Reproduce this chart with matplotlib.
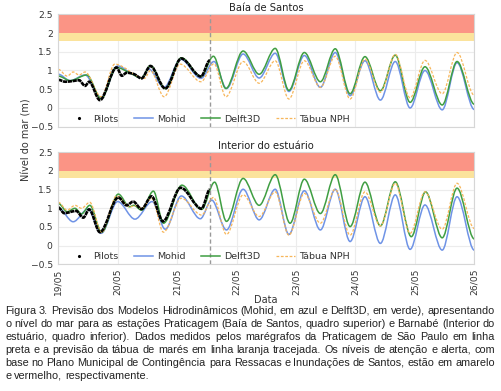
import matplotlib
matplotlib.use("Agg")
import matplotlib.pyplot as plt
from matplotlib.path import Path
from matplotlib.patches import PathPatch
from matplotlib.lines import Line2D
import numpy as np

# ---------------- data (days since 19/05 00:00) ----------------
day_labels = ["19/05", "20/05", "21/05", "22/05", "23/05", "24/05", "25/05", "26/05"]
forecast_start = 2.55

# Top panel: Baía de Santos
top_pilots_t = [0, 0.12, 0.25, 0.35, 0.45, 0.52, 0.70, 0.98, 1.07, 1.15, 1.28, 1.40, 1.55, 1.80, 2.07, 2.40, 2.55]
top_pilots_v = [0.75, 0.70, 0.72, 0.74, 0.59, 0.70, 0.21, 1.08, 0.86, 0.94, 0.90, 0.79, 1.12, 0.52, 1.32, 0.84, 1.27]

top_mohid_t = [0, 0.2, 0.45, 0.72, 1.0, 1.2, 1.4, 1.52, 1.78, 2.06, 2.4, 2.62, 2.83, 3.11, 3.38, 3.65, 3.88,
               4.14, 4.41, 4.66, 4.91, 5.16, 5.42, 5.67, 5.92, 6.17, 6.46, 6.71, 7.0]
top_mohid_v = [0.90, 0.73, 0.88, 0.28, 1.12, 0.95, 0.80, 1.04, 0.55, 1.30, 0.79, 1.24, 0.52, 1.44, 0.80, 1.46, 0.44,
               1.40, 0.55, 1.48, 0.33, 1.26, 0.21, 1.24, 0.0, 1.0, -0.05, 1.21, -0.04]

top_delft_t = [0, 0.2, 0.48, 0.72, 0.98, 1.2, 1.4, 1.55, 1.8, 2.07, 2.4, 2.61, 2.82, 3.11, 3.38, 3.65, 3.88,
               4.14, 4.41, 4.66, 4.91, 5.16, 5.42, 5.67, 5.92, 6.17, 6.46, 6.71, 7.0]
top_delft_v = [0.85, 0.73, 0.88, 0.25, 1.08, 0.94, 0.80, 1.13, 0.52, 1.34, 0.84, 1.38, 0.52, 1.52, 0.90, 1.59, 0.47,
               1.48, 0.70, 1.58, 0.38, 1.37, 0.46, 1.41, 0.15, 1.10, 0.08, 1.24, 0.10]

top_tabua_t = [0, 0.15, 0.25, 0.35, 0.45, 0.72, 0.95, 1.45, 1.55, 1.78, 2.05, 2.4, 2.62, 2.82, 3.11, 3.38, 3.65,
               3.88, 4.14, 4.41, 4.66, 4.91, 5.16, 5.42, 5.67, 5.92, 6.17, 6.46, 6.71, 7.0]
top_tabua_v = [1.03, 0.85, 0.96, 0.88, 0.96, 0.30, 1.17, 0.79, 1.00, 0.30, 1.17, 0.70, 1.18, 0.30, 1.24, 0.66, 1.26,
               0.24, 1.26, 0.55, 1.38, 0.24, 1.30, 0.42, 1.43, 0.27, 1.27, 0.38, 1.48, 0.34]

# Bottom panel: Interior do estuário
bot_pilots_t = [0, 0.1, 0.3, 0.42, 0.52, 0.70, 1.01, 1.15, 1.26, 1.40, 1.57, 1.76, 2.06, 2.41, 2.55]
bot_pilots_v = [1.02, 0.87, 0.93, 0.75, 0.97, 0.36, 1.29, 1.08, 1.18, 0.98, 1.32, 0.65, 1.55, 0.99, 1.50]

bot_mohid_t = [0, 0.25, 0.5, 0.72, 1.0, 1.29, 1.58, 1.8, 2.07, 2.39, 2.58, 2.83, 3.11, 3.38, 3.65, 3.88,
               4.14, 4.41, 4.66, 4.91, 5.16, 5.42, 5.67, 5.92, 6.17, 6.46, 6.71, 7.0]
bot_mohid_v = [1.01, 0.64, 0.98, 0.33, 1.18, 0.71, 1.18, 0.44, 1.33, 0.72, 1.22, 0.42, 1.51, 0.69, 1.51, 0.30,
               1.47, 0.42, 1.51, 0.11, 1.31, 0.06, 1.36, -0.10, 1.09, -0.12, 1.31, -0.12]

bot_delft_t = [0, 0.15, 0.28, 0.39, 0.53, 0.73, 1.01, 1.2, 1.27, 1.4, 1.6, 1.77, 2.08, 2.41, 2.63, 2.83, 3.11,
               3.38, 3.65, 3.90, 4.14, 4.41, 4.66, 4.91, 5.16, 5.42, 5.67, 5.94, 6.18, 6.46, 6.71, 7.0]
bot_delft_v = [1.13, 0.91, 1.0, 0.85, 1.08, 0.36, 1.38, 1.04, 1.08, 0.95, 1.46, 0.60, 1.62, 0.97, 1.70, 0.65, 1.80,
               1.08, 1.90, 0.60, 1.78, 0.86, 1.90, 0.51, 1.70, 0.53, 1.71, 0.24, 1.44, 0.21, 1.54, 0.18]

bot_tabua_t = [0, 0.15, 0.28, 0.39, 0.53, 0.73, 0.98, 1.21, 1.30, 1.40, 1.57, 1.77, 2.07, 2.41, 2.61, 2.83, 3.11,
               3.38, 3.65, 3.88, 4.14, 4.41, 4.66, 4.91, 5.16, 5.42, 5.67, 5.92, 6.17, 6.46, 6.71, 7.0]
bot_tabua_v = [1.16, 0.95, 1.08, 1.0, 1.16, 0.35, 1.33, 1.04, 1.07, 1.0, 1.27, 0.36, 1.27, 0.82, 1.29, 0.30, 1.36,
               0.78, 1.44, 0.28, 1.40, 0.60, 1.51, 0.28, 1.44, 0.53, 1.67, 0.33, 1.44, 0.44, 1.67, 0.46]

attention_level = [1.8, 2.0]
alert_level = [2.0, 2.5]

titles = ["Baía de Santos", "Interior do estuário"]
legend_labels = ["Pilots", "Mohid", "Delft3D", "Tábua NPH"]
ytick_vals = [-0.5, 0, 0.5, 1, 1.5, 2, 2.5]
ytick_labels = ["\u22120.5", "0", "0.5", "1", "1.5", "2", "2.5"]

caption_lines = [
    "Figura 3. Previsão dos Modelos Hidrodinâmicos (Mohid, em azul e Delft3D, em verde), apresentando",
    "o nível do mar para as estações Praticagem (Baía de Santos, quadro superior) e Barnabé (Interior do",
    "estuário, quadro inferior). Dados medidos pelos marégrafos da Praticagem de São Paulo em linha",
    "preta e a previsão da tábua de marés em linha laranja tracejada. Os níveis de atenção e alerta, com",
    "base no Plano Municipal de Contingência para Ressacas e Inundações de Santos, estão em amarelo",
    "e vermelho, respectivamente.",
]

# ---------------- style ----------------
C_MOHID = "#6f93e6"
C_DELFT = "#3f9e42"
C_TABUA = "#f7b65a"
C_RED = "#fb9485"
C_YEL = "#fbe39c"
TXT = "#333333"

plt.rcParams["font.family"] = ["DejaVu Sans"]


def smooth_path(t, v):
    """Cubic Bezier path through the read points (flat tangents at extrema)."""
    t = np.asarray(t, float)
    v = np.asarray(v, float)
    n = len(t)
    m = np.zeros(n)
    for i in range(1, n - 1):
        if (v[i] - v[i - 1]) * (v[i + 1] - v[i]) > 0:
            m[i] = (v[i + 1] - v[i - 1]) / (t[i + 1] - t[i - 1])
    verts = [(t[0], v[0])]
    codes = [Path.MOVETO]
    for i in range(n - 1):
        dt = t[i + 1] - t[i]
        verts += [(t[i] + dt / 3, v[i] + m[i] * dt / 3),
                  (t[i + 1] - dt / 3, v[i + 1] - m[i + 1] * dt / 3),
                  (t[i + 1], v[i + 1])]
        codes += [Path.CURVE4] * 3
    return Path(verts, codes)


def draw_series(ax, t, v, **kw):
    ax.add_patch(PathPatch(smooth_path(t, v), fill=False, **kw))


W, H = 501, 391
fig = plt.figure(figsize=(W / 100, H / 100), dpi=100)
axL, axR = 58.3 / W, 474.3 / W
ax_top = fig.add_axes([axL, 1 - 126.7 / H, axR - axL, 112.4 / H])
ax_bot = fig.add_axes([axL, 1 - 264.3 / H, axR - axL, 112.0 / H])

panels = [
    (ax_top, top_pilots_t, top_pilots_v, top_mohid_t, top_mohid_v, top_delft_t, top_delft_v, top_tabua_t, top_tabua_v),
    (ax_bot, bot_pilots_t, bot_pilots_v, bot_mohid_t, bot_mohid_v, bot_delft_t, bot_delft_v, bot_tabua_t, bot_tabua_v),
]

for k, (ax, pt, pv, mt, mv, dt_, dv, tt, tv) in enumerate(panels):
    ax.set_facecolor("white")
    ax.grid(True, color="#ececec", lw=0.8, zorder=0)
    ax.set_axisbelow(True)
    ax.axhspan(alert_level[0], alert_level[1], color=C_RED, lw=0, zorder=1)
    ax.axhspan(attention_level[0], attention_level[1], color=C_YEL, lw=0, zorder=1)
    draw_series(ax, mt, mv, edgecolor=C_MOHID, lw=1.1, zorder=3)
    draw_series(ax, dt_, dv, edgecolor=C_DELFT, lw=1.1, zorder=3.1)
    draw_series(ax, tt, tv, edgecolor=C_TABUA, lw=0.9, linestyle=(0, (2.2, 1.3)), zorder=3.2)
    draw_series(ax, pt, pv, edgecolor="black", lw=1.9, linestyle=(0, (1.6, 0.25)), zorder=4)
    ax.axvline(forecast_start, color="#999999", lw=1.0, ls=(0, (3, 2)), zorder=5)

    ax.set_xlim(0, 7)
    ax.set_ylim(-0.5, 2.5)
    ax.set_yticks(ytick_vals)
    ax.set_yticklabels(ytick_labels)
    ax.set_xticks(range(8))
    for s in ax.spines.values():
        s.set_color("#d6d6d6")
        s.set_linewidth(0.8)
        s.set_zorder(6)
    ax.tick_params(length=0, labelsize=6.6, colors=TXT, pad=4)
    ax.set_title(titles[k], fontsize=7.2, color="#222222", pad=2.5)
    if k == 0:
        ax.set_xticklabels([])
    else:
        ax.set_xticklabels(day_labels, rotation=90)
        ax.tick_params(axis="x", pad=3)

    handles = [
        Line2D([], [], color="black", marker=".", ms=2.5, ls="none"),
        Line2D([], [], color=C_MOHID, lw=1.1),
        Line2D([], [], color=C_DELFT, lw=1.1),
        Line2D([], [], color=C_TABUA, lw=0.9, ls=(0, (2.2, 1.3))),
    ]
    leg = ax.legend(handles, legend_labels, ncol=4, loc="lower left", frameon=False,
                    fontsize=6.8, handlelength=2.0, columnspacing=1.6, handletextpad=0.5,
                    borderaxespad=0.15, bbox_to_anchor=(0.015, -0.02))
    for txt in leg.get_texts():
        txt.set_color(TXT)
    leg.set_zorder(6)

fig.text(27 / W, 1 - 140 / H, "Nível do mar (m)", rotation=90, ha="center", va="center",
         fontsize=7.0, color=TXT)
fig.text(266 / W, 1 - 300 / H, "Data", ha="center", va="center", fontsize=7.0, color=TXT)

# ---------------- caption (justified) ----------------
renderer = fig.canvas.get_renderer()
cap_x0, cap_x1 = 5.0, 495.0
cap_fs = 7.85
cap_base0 = 313.5
cap_dy = 13.1
CAP_FONT = "Liberation Sans"
sp1 = fig.text(0, 0, "a a", fontsize=cap_fs, family=CAP_FONT)
sp2 = fig.text(0, 0, "aa", fontsize=cap_fs, family=CAP_FONT)
space_w = sp1.get_window_extent(renderer).width - sp2.get_window_extent(renderer).width
sp1.remove()
sp2.remove()
for li, line in enumerate(caption_lines):
    y = 1 - (cap_base0 + li * cap_dy) / H
    words = line.split(" ")
    objs = [fig.text(0, y, w_, fontsize=cap_fs, family=CAP_FONT, color="#222222", va="baseline")
            for w_ in words]
    widths = [o.get_window_extent(renderer).width for o in objs]
    if li < len(caption_lines) - 1 and len(words) > 1:
        gap = (cap_x1 - cap_x0 - sum(widths)) / (len(words) - 1)
    else:
        gap = space_w
    x = cap_x0
    for o, wd in zip(objs, widths):
        o.set_x(x / W)
        x += wd + gap

fig.savefig("out.png", dpi=100, facecolor="white")
